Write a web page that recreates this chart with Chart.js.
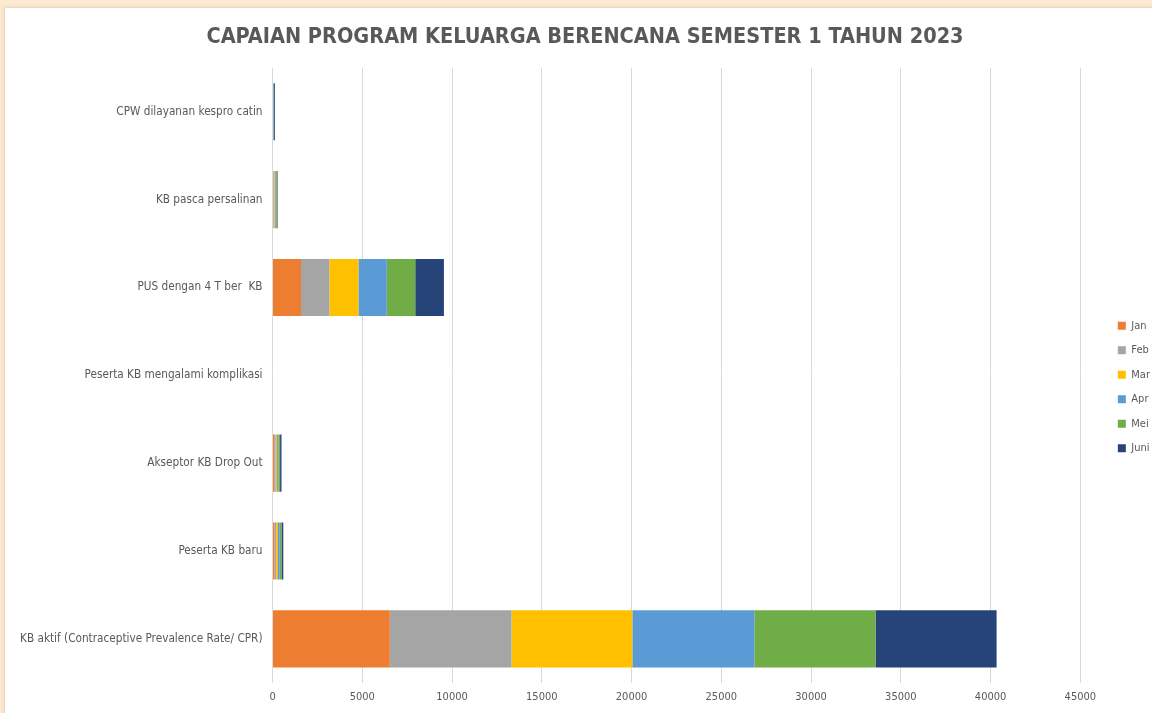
<!DOCTYPE html>
<html>
<head>
<meta charset="utf-8">
<script src="https://cdn.jsdelivr.net/npm/chart.js@4.4.1/dist/chart.umd.min.js"></script>
<style>
  html, body { margin: 0; padding: 0; }
  body { width: 1152px; height: 713px; overflow: hidden; background: #fde9d0; position: relative; }
  .panel {
    position: absolute; left: 5px; top: 8px; width: 1180px; height: 720px;
    background: #ffffff; box-shadow: 0 0 3px rgba(180, 150, 110, 0.5);
  }
  .wrap { position: absolute; left: 0; top: 0; width: 1155px; height: 705px; }
</style>
</head>
<body>
<div class="panel">
  <div class="wrap"><canvas id="kb-chart"></canvas></div>
</div>
<script>
  const categories = [
    "CPW dilayanan kespro catin",
    "KB pasca persalinan",
    "PUS dengan 4 T ber  KB",
    "Peserta KB mengalami komplikasi",
    "Akseptor KB Drop Out",
    "Peserta KB baru",
    "KB aktif (Contraceptive Prevalence Rate/ CPR)"
  ];
  const months = ["Jan", "Feb", "Mar", "Apr", "Mei", "Juni"];

  // per month, in the order of the categories above
  const janValues = [0, 45, 1586, 0, 95, 105, 6533];
  const febValues = [0, 45, 1580, 0, 80, 100, 6784];
  const marValues = [0, 45, 1619, 0, 80, 100, 6728];
  const aprValues = [50, 45, 1580, 0, 80, 95, 6795];
  const meiValues = [20, 50, 1586, 0, 85, 100, 6750];
  const juniValues = [60, 50, 1597, 0, 80, 100, 6745];

  const xTicks = [0, 5000, 10000, 15000, 20000, 25000, 30000, 35000, 40000, 45000];

  const colors = ["#ed7d31", "#a5a5a5", "#ffc000", "#5b9bd5", "#70ad47", "#264478"];
  const textColor = "#595959";
  const gridColor = "#d9d9d9";
  const font = "'Liberation Sans Narrow', 'DejaVu Sans Condensed', 'Open Sans', sans-serif";

  const monthSeries = [janValues, febValues, marValues, aprValues, meiValues, juniValues];

  const datasets = months.map(function (m, i) {
    return {
      label: m,
      data: monthSeries[i],
      backgroundColor: colors[i],
      borderWidth: 0,
      barPercentage: 0.65,
      categoryPercentage: 1
    };
  });

  // leave a gap between the plot and the legend, and drop the legend a bit
  const legendGap = 24;
  const legendDrop = 27;
  const legendGapPlugin = {
    id: "legendGap",
    beforeInit: function (chart) {
      const fit = chart.legend.fit;
      chart.legend.fit = function () {
        fit.bind(chart.legend)();
        this.width += legendGap;
      };
    },
    afterLayout: function (chart) {
      chart.legend.left += legendGap;
      chart.legend.top += legendDrop;
      chart.legend.bottom += legendDrop;
    }
  };

  new Chart(document.getElementById("kb-chart"), {
    type: "bar",
    data: { labels: categories, datasets: datasets },
    plugins: [legendGapPlugin],
    options: {
      indexAxis: "y",
      responsive: true,
      maintainAspectRatio: false,
      animation: false,
      layout: { padding: { left: 5, right: 0, top: 0, bottom: 1 } },
      plugins: {
        title: {
          display: true,
          text: "CAPAIAN PROGRAM KELUARGA BERENCANA SEMESTER 1 TAHUN 2023",
          color: textColor,
          font: { family: font, size: 21.5, weight: "bold" },
          padding: { top: 17, bottom: 17 }
        },
        legend: {
          position: "right",
          labels: {
            color: textColor,
            boxWidth: 8,
            boxHeight: 8,
            padding: 13.5,
            font: { family: font, size: 11 }
          }
        },
        tooltip: { enabled: false }
      },
      scales: {
        x: {
          stacked: true,
          min: 0,
          max: 45000,
          afterBuildTicks: function (axis) {
            axis.ticks = xTicks.map(function (v) { return { value: v }; });
          },
          ticks: {
            color: textColor,
            font: { family: font, size: 11 },
            padding: 8,
            maxRotation: 0,
            callback: function (v) { return String(v); }
          },
          grid: { color: gridColor, drawTicks: false },
          border: { display: false }
        },
        y: {
          stacked: true,
          ticks: {
            color: textColor,
            font: { family: font, size: 11.7 },
            padding: 10
          },
          grid: { display: false, drawTicks: false },
          border: { display: false }
        }
      }
    }
  });
</script>
</body>
</html>
